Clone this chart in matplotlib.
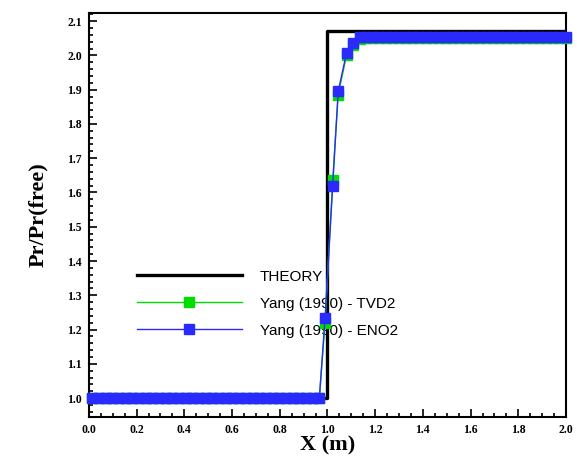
import numpy as np
import matplotlib
matplotlib.use("Agg")
import matplotlib.pyplot as plt
from matplotlib.ticker import MultipleLocator

# theory: step from 1.0 to ~2.07 at x = 1.0
theory_x = [0.0, 1.0, 1.0, 2.0]
theory_y = [1.0, 1.0, 2.07, 2.07]

# grid spacing of the computed solutions (markers form a solid band)
grid_left = np.arange(0.014, 0.97, 0.028)
grid_right = np.arange(1.16, 2.01, 0.028)

# Yang (1990) - TVD2
tvd_mid_x = [0.99, 1.022, 1.045, 1.08, 1.107, 1.135]
tvd_mid_y = [1.22, 1.635, 1.885, 2.0, 2.03, 2.048]
tvd_plateau = 2.052

# Yang (1990) - ENO2
eno_mid_x = [0.99, 1.022, 1.045, 1.08, 1.107, 1.135]
eno_mid_y = [1.233, 1.62, 1.895, 2.007, 2.036, 2.055]
eno_plateau = 2.055

tvd_x = np.concatenate([grid_left, tvd_mid_x, grid_right])
tvd_y = np.concatenate([np.full(len(grid_left), 1.0), tvd_mid_y,
                        np.full(len(grid_right), tvd_plateau)])
eno_x = np.concatenate([grid_left, eno_mid_x, grid_right])
eno_y = np.concatenate([np.full(len(grid_left), 1.0), eno_mid_y,
                        np.full(len(grid_right), eno_plateau)])

fig = plt.figure(figsize=(5.77, 4.62), dpi=100)
ax = fig.add_axes([0.154, 0.0974, 0.827, 0.874])

ax.plot(theory_x, theory_y, color="black", lw=2.4, label="THEORY", zorder=3)
ax.plot(tvd_x, tvd_y, color="#00dd00", lw=1.0, marker="s", ms=7,
        mec="#00dd00", mfc="#00dd00", label="Yang (1990) - TVD2", zorder=4,
        clip_on=False)
ax.plot(eno_x, eno_y, color="#2a2aff", lw=1.0, marker="s", ms=7,
        mec="#2a2aff", mfc="#2a2aff", label="Yang (1990) - ENO2", zorder=5,
        clip_on=False)

ax.set_xlim(0.0, 2.0)
ax.set_ylim(0.945, 2.123)
ax.xaxis.set_major_locator(MultipleLocator(0.2))
ax.xaxis.set_minor_locator(MultipleLocator(0.05))
ax.yaxis.set_major_locator(MultipleLocator(0.1))
ax.yaxis.set_minor_locator(MultipleLocator(0.02))
ax.tick_params(which="both", direction="in", width=1.2, top=False, right=False)
ax.tick_params(which="major", length=6, pad=5)
ax.tick_params(which="minor", length=3)
for lab in ax.get_xticklabels() + ax.get_yticklabels():
    lab.set_family("Liberation Serif")
    lab.set_fontweight("bold")
    lab.set_fontsize(8.5)
for sp in ax.spines.values():
    sp.set_linewidth(1.5)

ax.set_xlabel("X (m)", family="Liberation Serif", fontweight="bold",
              fontsize=16, labelpad=0)
ax.set_ylabel("Pr/Pr(free)", family="Liberation Serif", fontweight="bold",
              fontsize=16, labelpad=14)

leg = ax.legend(loc="upper left", bbox_to_anchor=(0.10, 0.365), frameon=False,
                prop={"family": "Liberation Sans", "size": 11},
                handlelength=6.9, handletextpad=1.15, labelspacing=0.85,
                borderaxespad=0, borderpad=0)
leg.set_zorder(1)

fig.savefig("out.png", dpi=100)
